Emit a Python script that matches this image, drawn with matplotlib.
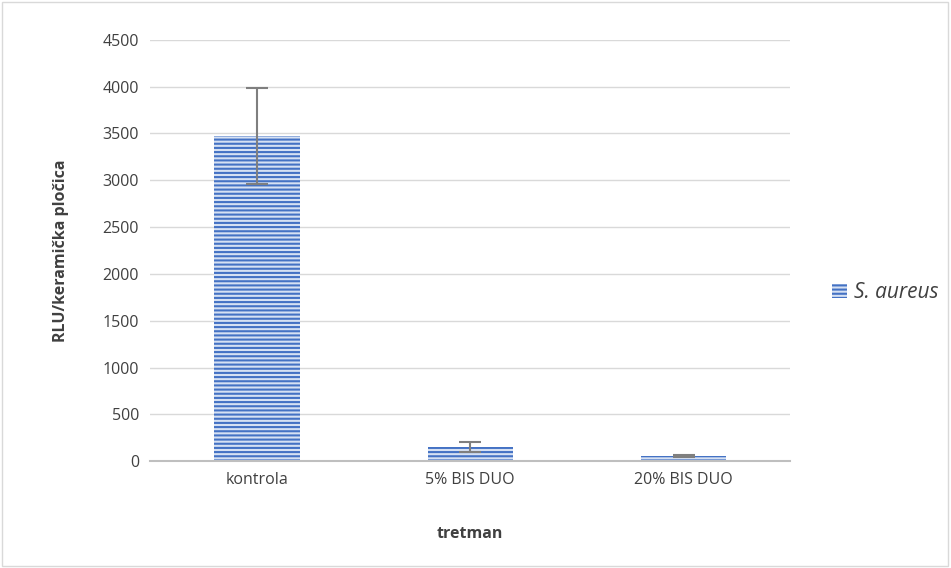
import matplotlib
matplotlib.use('Agg')
import matplotlib.pyplot as plt
import numpy as np
from matplotlib.patches import Rectangle

categories = ['kontrola', '5% BIS DUO', '20% BIS DUO']
values = [3470, 152, 52]
errors = [515, 58, 12]
series_name = 'S. aureus'

plt.rcParams['font.family'] = ['Open Sans', 'DejaVu Sans']
plt.rcParams['hatch.color'] = '#4472C4'
plt.rcParams['hatch.linewidth'] = 1.5

fig = plt.figure(figsize=(9.51, 5.68), dpi=100)
ax = fig.add_axes([0.158, 0.188, 0.673, 0.742])

x = np.arange(len(categories))
ax.bar(x, values, width=0.4, color='#d6e1f3', edgecolor='#4472C4', linewidth=0,
       hatch='----', label=series_name, zorder=2)
ax.errorbar(x, values, yerr=errors, fmt='none', ecolor='#7f7f7f', elinewidth=1.5,
            capsize=8, capthick=1.5, zorder=3)

ax.set_xlim(-0.5, 2.5)
ax.set_ylim(0, 4500)
ax.set_yticks(np.arange(0, 4501, 500))
ax.set_xticks(x)
ax.set_xticklabels(categories)
ax.yaxis.grid(True, color='#d9d9d9', linewidth=1, zorder=0)
ax.set_axisbelow(True)
for s in ['top', 'right', 'left']:
    ax.spines[s].set_visible(False)
ax.spines['bottom'].set_color('#bfbfbf')
ax.spines['bottom'].set_linewidth(1.5)
ax.tick_params(axis='both', length=0, labelsize=11.5, colors='#404040', pad=8)

ax.set_ylabel('RLU/keramička pločica', fontsize=11.5, fontweight='bold', color='#404040', labelpad=24)
ax.set_xlabel('tretman', fontsize=11.5, fontweight='bold', color='#404040', labelpad=27)

leg = ax.legend(loc='center left', bbox_to_anchor=(1.036, 0.4), frameon=False,
                handlelength=0.7, handleheight=0.7, handletextpad=0.35, fontsize=15)
for t in leg.get_texts():
    t.set_style('italic')
    t.set_color('#404040')

fig.patches.append(Rectangle((0.002, 0.003), 0.995, 0.993, transform=fig.transFigure,
                             fill=False, edgecolor='#d9d9d9', linewidth=1))

fig.savefig('out.png', dpi=100)
